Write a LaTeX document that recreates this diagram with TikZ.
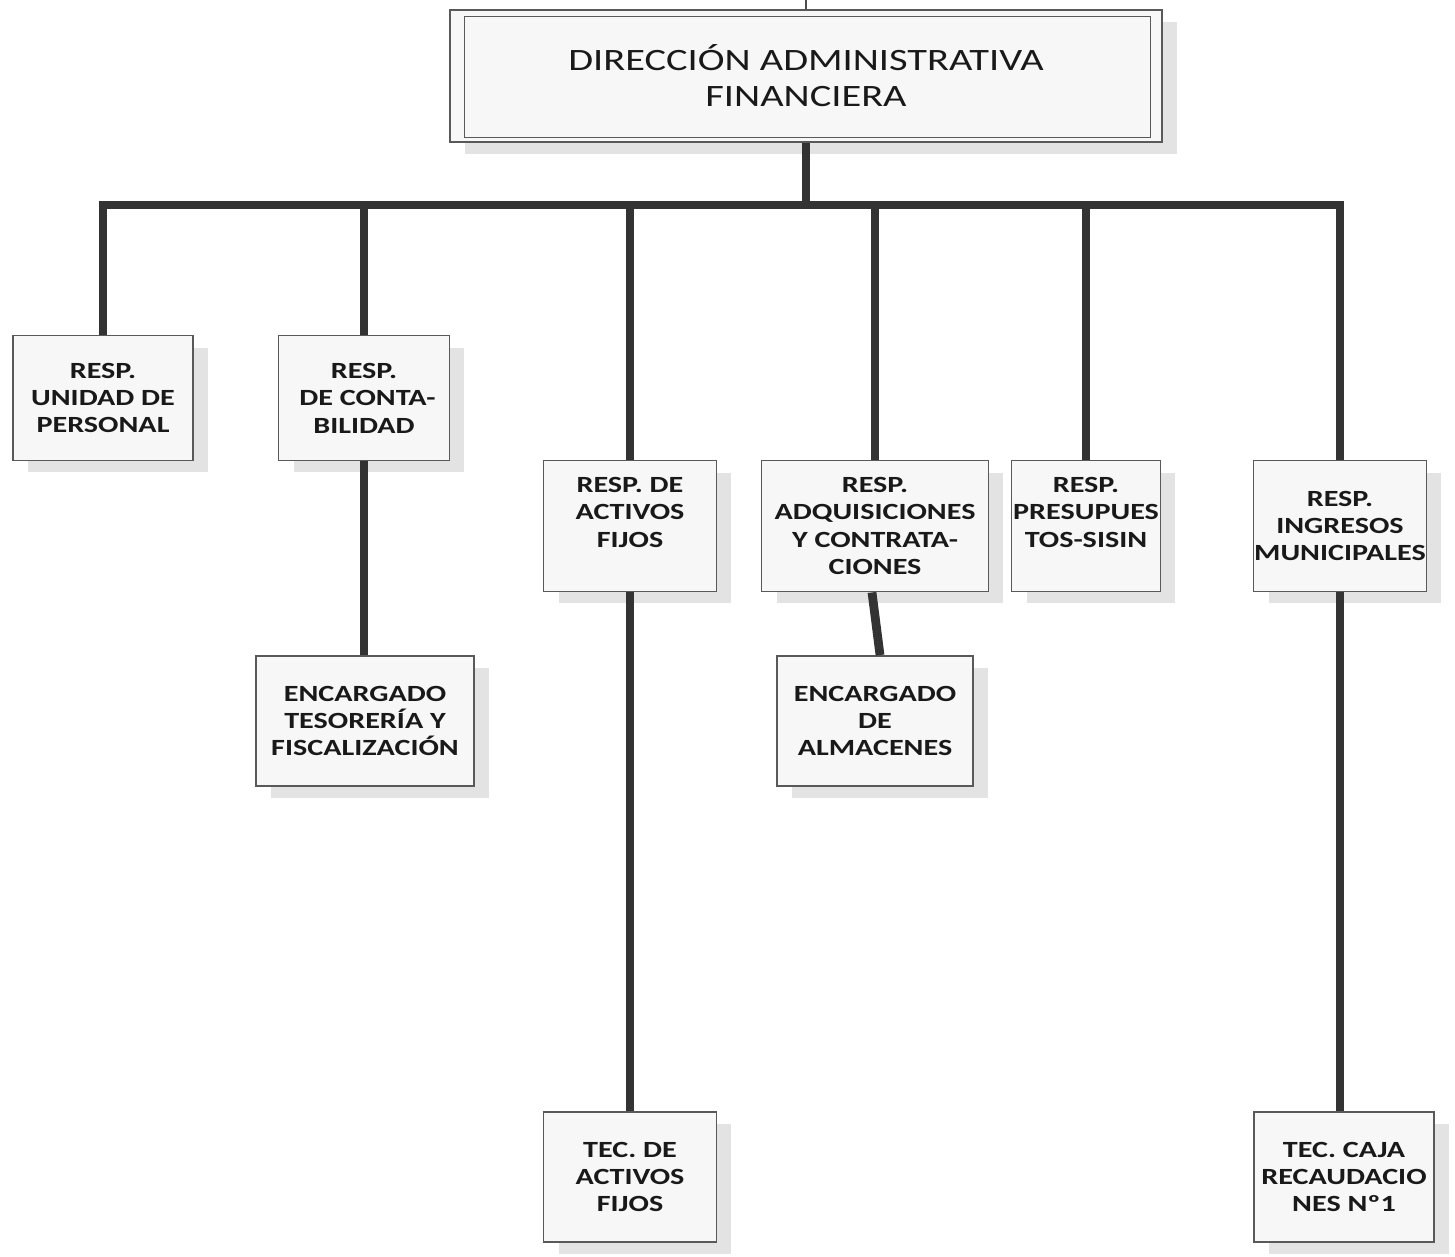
\documentclass[tikz,border=0pt]{standalone}
\usepackage{fontspec}
\setmainfont{Carlito}[FakeStretch=1.3]
\usetikzlibrary{shadows}

\begin{document}
\begin{tikzpicture}[x=0.02cm,y=-0.02cm]
\tikzstyle{unit}=[draw=black!65,line width=1.1pt,fill=black!3,text=black!90,font=\fontsize{13.2}{15.6}\selectfont\bfseries,align=center,inner sep=0pt,general shadow={fill=black!11,shadow xshift=0.3cm,shadow yshift=-0.24cm}];
\tikzstyle{conn}=[draw=black!80,line width=5pt];
\useasboundingbox (0,0) rectangle (1455,1257);

% direccion
\node[unit,minimum width=14.24cm,minimum height=2.64cm,line width=0.8pt,font=\fontsize{17.7}{20.5}\selectfont] (dir) at (806,76) {DIRECCIÓN ADMINISTRATIVA\\FINANCIERA};
\draw[draw=black!65,line width=0.9pt] ([shift={(15,7)}]dir.north west) rectangle ([shift={(-12,-5)}]dir.south east);
\coordinate (up) at (806,0);
\draw[draw=black!70,line width=1pt] (up) -- (dir.north);

% primer nivel
\node[unit,minimum width=3.6cm,minimum height=2.5cm] (pers) at (103,398) {RESP.\\UNIDAD DE\\PERSONAL};
\node[unit,minimum width=3.42cm,minimum height=2.5cm] (cont) at (364,398) {RESP.\\\ DE CONTA-\\BILIDAD};
\node[unit,minimum width=3.46cm,minimum height=2.62cm] (afij) at (630,526) {RESP. DE\\ACTIVOS\\FIJOS\\\mbox{}};
\node[unit,minimum width=4.54cm,minimum height=2.62cm] (adq) at (875,526) {RESP.\\ADQUISICIONES\\Y CONTRATA-\\CIONES};
\node[unit,minimum width=2.98cm,minimum height=2.62cm] (pres) at (1086,526) {RESP.\\\makebox[0pt]{PRESUPUES}\\TOS-SISIN\\\mbox{}};
\node[unit,minimum width=3.46cm,minimum height=2.62cm] (ingr) at (1340,526) {RESP.\\INGRESOS\\\makebox[0pt]{MUNICIPALES}};

% segundo nivel
\node[unit,minimum width=4.36cm,minimum height=2.6cm] (teso) at (365,721) {ENCARGADO\\TESORERÍA Y\\FISCALIZACIÓN};
\node[unit,minimum width=3.92cm,minimum height=2.6cm] (alm) at (875,721) {ENCARGADO\\DE\\ALMACENES};
\node[unit,minimum width=3.46cm,minimum height=2.6cm] (tafij) at (630,1177) {TEC. DE\\ACTIVOS\\FIJOS};
\node[unit,minimum width=3.6cm,minimum height=2.6cm] (caja) at (1344,1177) {TEC. CAJA\\\makebox[0pt]{RECAUDACIO}\\NES Nº1};

% conectores
\coordinate (bus) at (806,205);
\draw[conn] (dir.south) -- (bus);
\foreach \n in {pers,cont,afij,adq,pres,ingr}
  \draw[conn] (bus) -| (\n.north);
\draw[conn] (cont.south) -- (teso.north -| cont.south);
\draw[conn] (afij.south) -- (tafij.north);
\draw[conn] ([shift={(-3,0)}]adq.south) -- ([shift={(5,0)}]alm.north);
\draw[conn] (ingr.south) -- (caja.north -| ingr.south);
\end{tikzpicture}
\end{document}
